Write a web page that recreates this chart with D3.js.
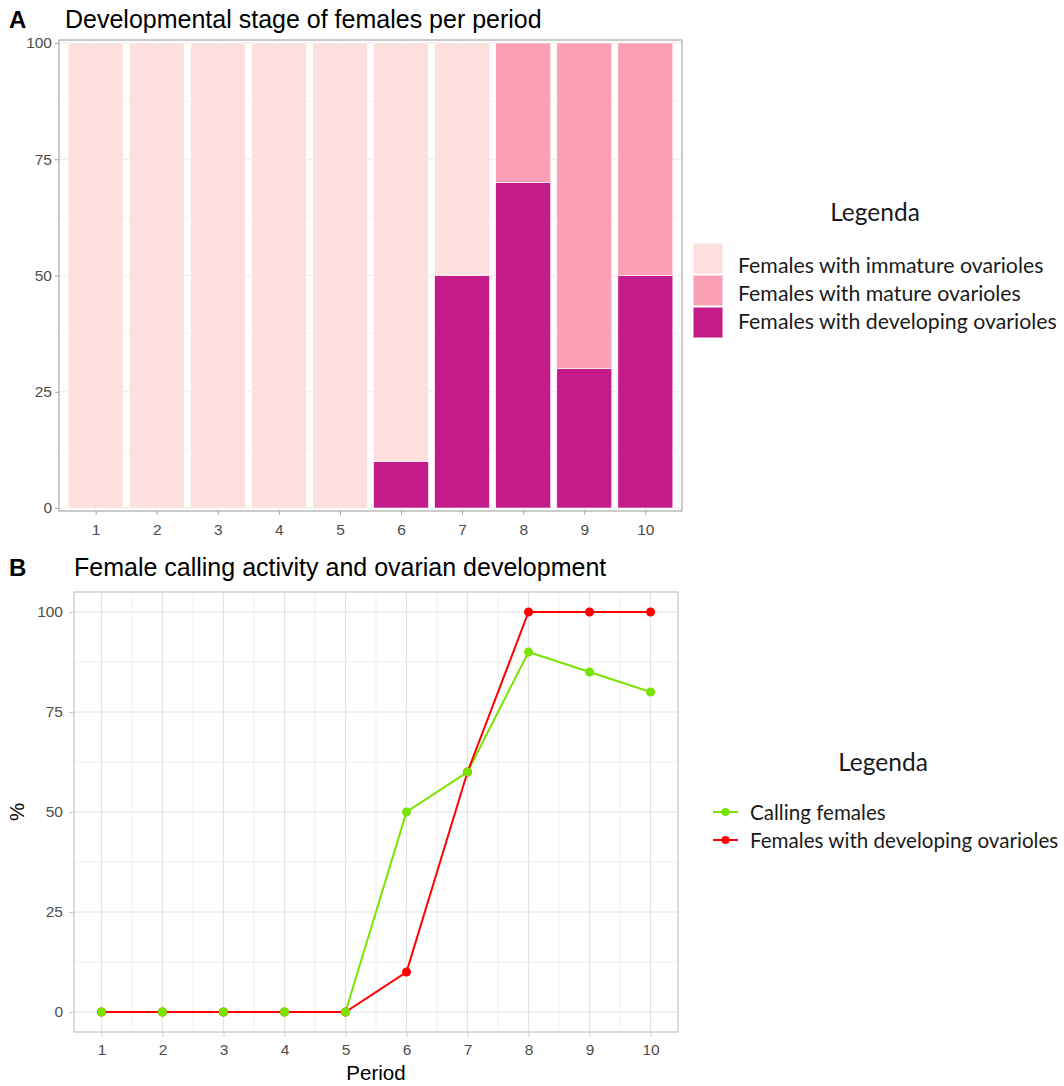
<!DOCTYPE html>
<html>
<head>
<meta charset="utf-8">
<script src="https://cdn.jsdelivr.net/npm/d3@7"></script>
<style>
  html, body { margin: 0; padding: 0; background: #fff; }
  svg { display: block; }
  text { font-family: "Liberation Sans", Arial, sans-serif; }
  .leg { font-family: Lato, "Open Sans", sans-serif; }
</style>
</head>
<body>
<svg id="chart" width="1064" height="1086"></svg>
<script>
// Periods on the x axis
const periods = [1, 2, 3, 4, 5, 6, 7, 8, 9, 10];

// Panel A: percentage of females per developmental stage (stacked)
const developing = [0, 0, 0, 0, 0, 10, 50, 70, 30, 50];
const mature     = [0, 0, 0, 0, 0, 0, 0, 30, 70, 50];
const immature   = [100, 100, 100, 100, 100, 90, 50, 0, 0, 0];

const stageNames  = ["Females with immature ovarioles", "Females with mature ovarioles", "Females with developing ovarioles"];
const stageColors = ["#fde0dd", "#fa9fb5", "#c51b8a"];

// Panel B: calling activity vs developing ovarioles (%)
const calling        = [0, 0, 0, 0, 0, 50, 60, 90, 85, 80];
const developingLine = [0, 0, 0, 0, 0, 10, 60, 100, 100, 100];

const lineNames  = ["Calling females", "Females with developing ovarioles"];
const lineColors = ["#78e400", "#ff0000"];

const yTicks = [0, 25, 50, 75, 100];

const svg = d3.select("#chart");

// ---------- Panel A ----------
const A = { left: 59, right: 682, top: 40, bottom: 511 };
const xA = d3.scaleLinear().domain([0.4, 10.6]).range([A.left, A.right]);
const yA = d3.scaleLinear().domain([0, 100]).range([508, 43]);

const gA = svg.append("g");
// faint grid behind the bars
gA.selectAll("line.gy").data(d3.range(0, 101, 12.5)).join("line")
  .attr("x1", A.left).attr("x2", A.right)
  .attr("y1", d => yA(d)).attr("y2", d => yA(d))
  .attr("stroke", "#ebebeb").attr("stroke-width", d => d % 25 === 0 ? 1 : 0.6);
gA.selectAll("line.gx").data(periods).join("line")
  .attr("x1", d => xA(d)).attr("x2", d => xA(d))
  .attr("y1", A.top).attr("y2", A.bottom)
  .attr("stroke", "#ebebeb").attr("stroke-width", 1);

// stacked bars: developing at the bottom, mature above, immature on top
const rows = periods.map((p, i) => ({ period: p, developing: developing[i], mature: mature[i], immature: immature[i] }));
const stack = d3.stack().keys(["developing", "mature", "immature"])(rows);
const keyColor = { developing: stageColors[2], mature: stageColors[1], immature: stageColors[0] };
const barW = 0.9;

stack.forEach(layer => {
  gA.append("g").selectAll("rect").data(layer.filter(d => d[1] > d[0])).join("rect")
    .attr("x", d => xA(d.data.period - barW / 2))
    .attr("width", d => xA(d.data.period + barW / 2) - xA(d.data.period - barW / 2))
    .attr("y", d => yA(d[1]))
    .attr("height", d => yA(d[0]) - yA(d[1]))
    .attr("fill", keyColor[layer.key])
    .attr("stroke", "#fff").attr("stroke-width", 0.6);
});

// panel border
gA.append("rect").attr("x", A.left).attr("y", A.top)
  .attr("width", A.right - A.left).attr("height", A.bottom - A.top)
  .attr("fill", "none").attr("stroke", "#a8a8a8").attr("stroke-width", 1.2);

// axes
const axA_y = gA.append("g").attr("transform", `translate(${A.left},0)`)
  .call(d3.axisLeft(yA).tickValues(yTicks).tickSize(4).tickPadding(3));
const axA_x = gA.append("g").attr("transform", `translate(0,${A.bottom})`)
  .call(d3.axisBottom(xA).tickValues(periods).tickSize(4).tickPadding(9));
[axA_y, axA_x].forEach(ax => {
  ax.attr("font-size", null).attr("font-family", null);
  ax.select(".domain").remove();
  ax.selectAll(".tick line").attr("stroke", "#a8a8a8");
  ax.selectAll(".tick text").attr("fill", "#4d4d4d").style("font-size", "15.5px");
});

svg.append("text").attr("x", 9).attr("y", 28).text("A")
  .style("font-size", "24px").style("font-weight", "bold");
svg.append("text").attr("x", 65).attr("y", 28).text("Developmental stage of females per period")
  .style("font-size", "25px").attr("fill", "#000");

// legend A
svg.append("text").attr("class", "leg").attr("x", 875).attr("y", 221)
  .attr("text-anchor", "middle").style("font-size", "24.5px").attr("fill", "#1a1a1a").text("Legenda");
const legA = svg.append("g");
const keyY = [243, 275, 307];
legA.selectAll("rect").data(stageColors).join("rect")
  .attr("x", 693).attr("y", (d, i) => keyY[i]).attr("width", 30).attr("height", 31)
  .attr("fill", d => d).attr("stroke", "#fff").attr("stroke-width", 1);
legA.selectAll("text").data(stageNames).join("text").attr("class", "leg")
  .attr("x", 738).attr("y", (d, i) => 266 + i * 28).attr("dy", "0.35em")
  .style("font-size", "21.3px").attr("fill", "#1a1a1a").text(d => d);

// ---------- Panel B ----------
const B = { left: 74, right: 678, top: 592, bottom: 1032 };
const xB = d3.scaleLinear().domain([0.55, 10.45]).range([B.left, B.right]);
const yB = d3.scaleLinear().domain([-5, 105]).range([B.bottom, B.top]);

const gB = svg.append("g");
const minorY = [12.5, 37.5, 62.5, 87.5];
const minorX = d3.range(1.5, 10, 1);
gB.selectAll("line.mny").data(minorY).join("line")
  .attr("x1", B.left).attr("x2", B.right).attr("y1", d => yB(d)).attr("y2", d => yB(d))
  .attr("stroke", "#f0f0f0").attr("stroke-width", 1);
gB.selectAll("line.mnx").data(minorX).join("line")
  .attr("x1", d => xB(d)).attr("x2", d => xB(d)).attr("y1", B.top).attr("y2", B.bottom)
  .attr("stroke", "#f0f0f0").attr("stroke-width", 1);
gB.selectAll("line.mjy").data(yTicks).join("line")
  .attr("x1", B.left).attr("x2", B.right).attr("y1", d => yB(d)).attr("y2", d => yB(d))
  .attr("stroke", "#e3e3e3").attr("stroke-width", 1.2);
gB.selectAll("line.mjx").data(periods).join("line")
  .attr("x1", d => xB(d)).attr("x2", d => xB(d)).attr("y1", B.top).attr("y2", B.bottom)
  .attr("stroke", "#e3e3e3").attr("stroke-width", 1.2);

gB.append("rect").attr("x", B.left).attr("y", B.top)
  .attr("width", B.right - B.left).attr("height", B.bottom - B.top)
  .attr("fill", "none").attr("stroke", "#cccccc").attr("stroke-width", 1.4);

const series = [
  { name: lineNames[0], color: lineColors[0], values: calling },
  { name: lineNames[1], color: lineColors[1], values: developingLine }
];
const line = d3.line().x((d, i) => xB(periods[i])).y(d => yB(d));
series.forEach(s => {
  gB.append("path").attr("d", line(s.values)).attr("fill", "none")
    .attr("stroke", s.color).attr("stroke-width", 2);
});
[series[1], series[0]].forEach(s => {
  gB.append("g").selectAll("circle").data(s.values).join("circle")
    .attr("cx", (d, i) => xB(periods[i])).attr("cy", d => yB(d)).attr("r", 4.5)
    .attr("fill", s.color);
});

const axB_y = gB.append("g").attr("transform", `translate(${B.left},0)`)
  .call(d3.axisLeft(yB).tickValues(yTicks).tickSize(5).tickPadding(6));
const axB_x = gB.append("g").attr("transform", `translate(0,${B.bottom})`)
  .call(d3.axisBottom(xB).tickValues(periods).tickSize(5).tickPadding(7));
[axB_y, axB_x].forEach(ax => {
  ax.attr("font-size", null).attr("font-family", null);
  ax.select(".domain").remove();
  ax.selectAll(".tick line").attr("stroke", "#cccccc");
  ax.selectAll(".tick text").attr("fill", "#4d4d4d").style("font-size", "15.5px");
});

svg.append("text").attr("x", 9).attr("y", 576).text("B")
  .style("font-size", "24px").style("font-weight", "bold");
svg.append("text").attr("x", 74).attr("y", 576).text("Female calling activity and ovarian development")
  .style("font-size", "25px").attr("fill", "#000");

svg.append("text").attr("x", (B.left + B.right) / 2).attr("y", 1080).attr("text-anchor", "middle")
  .style("font-size", "20.5px").attr("fill", "#000").text("Period");
svg.append("text").attr("transform", "translate(24,812) rotate(-90)").attr("text-anchor", "middle")
  .style("font-size", "20.5px").attr("fill", "#000").text("%");

// legend B
svg.append("text").attr("class", "leg").attr("x", 883).attr("y", 771)
  .attr("text-anchor", "middle").style("font-size", "24.5px").attr("fill", "#1a1a1a").text("Legenda");
series.forEach((s, i) => {
  const y = 812 + i * 28;
  svg.append("line").attr("x1", 713).attr("x2", 738).attr("y1", y).attr("y2", y)
    .attr("stroke", s.color).attr("stroke-width", 2);
  svg.append("circle").attr("cx", 725.5).attr("cy", y).attr("r", 4).attr("fill", s.color);
  svg.append("text").attr("class", "leg").attr("x", 750).attr("y", y + 1).attr("dy", "0.35em")
    .style("font-size", "20.6px").attr("fill", "#1a1a1a").text(s.name);
});
</script>
</body>
</html>
